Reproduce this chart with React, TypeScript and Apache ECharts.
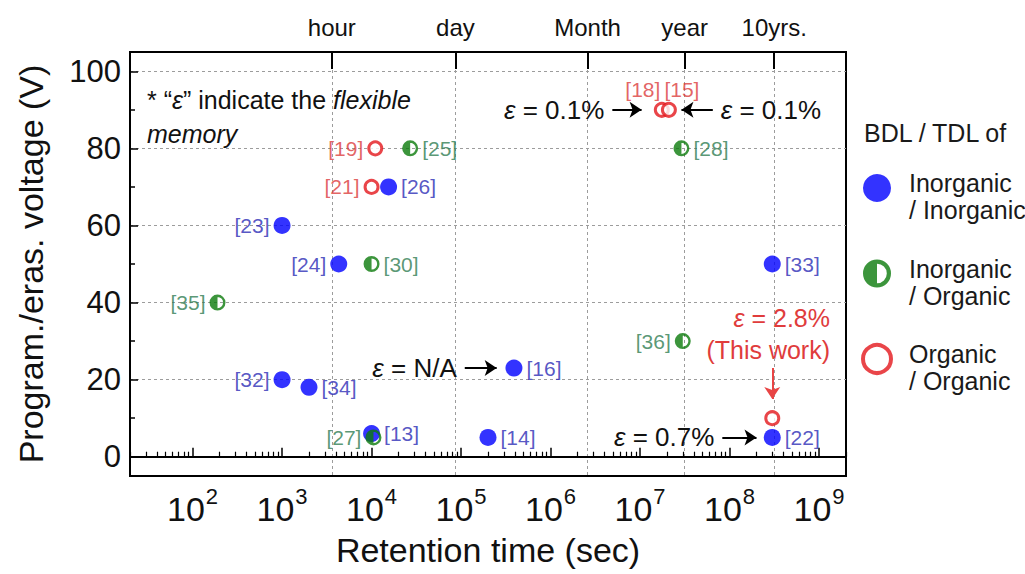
import React, { useEffect, useRef } from 'react';
import * as echarts from 'echarts';

// ---------- data ----------
const blueRefs = ['[26]', '[23]', '[24]', '[33]', '[32]', '[34]', '[16]', '[13]', '[14]', '[22]'];
const blueTime = [1.55e4, 1e3, 4.3e3, 3e8, 1e3, 2e3, 3.9e5, 1e4, 2e5, 3e8];
const blueVolt = [70, 60, 50, 50, 20, 18, 23, 6, 5, 5];
const blueSide = ['right', 'left', 'left', 'right', 'left', 'right', 'right', 'right', 'right', 'right'];

const greenRefs = ['[25]', '[28]', '[30]', '[35]', '[36]', '[27]'];
const greenTime = [2.7e4, 2.9e7, 1e4, 190, 3e7, 1.05e4];
const greenVolt = [80, 80, 50, 40, 30, 5];
const greenSide = ['right', 'right', 'right', 'left', 'left', 'left'];

const redRefs = ['[19]', '[21]', '[18]', '[15]', ''];
const redTime = [1.1e4, 1e4, 1.75e7, 2.1e7, 3e8];
const redVolt = [80, 70, 90, 90, 10];
const redSide = ['left', 'left', 'topLeft', 'topRight', 'none'];

const seriesNames = ['Inorganic\n/ Inorganic', 'Inorganic\n/ Organic', 'Organic\n/ Organic'];

const decadeTicks = [1e2, 1e3, 1e4, 1e5, 1e6, 1e7, 1e8, 1e9];
const timeMarkNames = ['hour', 'day', 'Month', 'year', '10yrs.'];
const timeMarkSecs = [3600, 86400, 2.592e6, 3.1536e7, 3.1536e8];
const voltTicks = [0, 20, 40, 60, 80, 100];
const voltMinorTicks = [10, 30, 50, 70, 90];

const arrowTexts = [' = 0.1%', ' = 0.1%', ' = N/A', ' = 0.7%'];
const arrowFrom = [[4.9e6, 90], [6.5e7, 90], [1.1e5, 23], [8.3e7, 5]];
const arrowTo = [[1.04e7, 90], [2.9e7, 90], [2.5e5, 23], [2.0e8, 5]];
const thisWorkArrowFrom = [3e8, 23];
const thisWorkArrowTo = [3e8, 15];

// log minor ticks (axis decoration)
const minorTicks: number[] = [];
for (let e = 1; e <= 9; e++) {
  for (let m = 2; m <= 9; m++) {
    const v = m * Math.pow(10, e);
    if (v >= 20 && v <= 2e9) minorTicks.push(v);
  }
}

const FONT = "'Liberation Sans', Arial, sans-serif";
const X_MIN = 20;
const X_MAX = 2e9;

const gridLine = { color: '#9c9c9c', type: [3, 3] as any, width: 1 };

function makeData(refs: string[], times: number[], volts: number[], sides: string[]) {
  return refs.map((r, i) => {
    const side = sides[i];
    let label: any;
    if (side === 'none') label = { show: false };
    else if (side === 'topLeft') label = { position: 'top', offset: [-19, 2] };
    else if (side === 'topRight') label = { position: 'top', offset: [13, 2] };
    else label = { position: side };
    return { name: r, value: [times[i], volts[i]], label };
  });
}

const GREEN_SYMBOL =
  'path://M0,-10A10,10 0 0,0 0,10A10,10 0 0,0 0,-10L0,-7A7,7 0 0,1 0,7L0,-7Z';

const epsRich = {
  e: { fontFamily: FONT, fontSize: 26, fontStyle: 'italic', color: '#111' },
  t: { fontFamily: FONT, fontSize: 26, color: '#111' },
};

function buildOption() {
  const markLineData: any[] = arrowTexts.map((txt, i) => [
    {
      coord: arrowFrom[i],
      label: {
        show: true,
        position: 'start',
        distance: 8,
        formatter: `{e|ε}{t|${txt}}`,
        rich: epsRich,
      },
      lineStyle: { color: '#000', width: 2, type: 'solid' },
    },
    { coord: arrowTo[i] },
  ]);
  markLineData.push([
    {
      coord: thisWorkArrowFrom,
      label: { show: false },
      lineStyle: { color: '#e84545', width: 2, type: 'solid' },
      itemStyle: { color: '#e84545' },
    },
    { coord: thisWorkArrowTo },
  ]);

  const labelBase = (color: string) => ({
    show: true,
    formatter: '{b}',
    color,
    fontFamily: FONT,
    fontSize: 21,
    distance: 4,
  });

  return {
    animation: false,
    backgroundColor: '#ffffff',
    grid: {
      left: 130,
      top: 52,
      right: 179,
      bottom: 98,
      show: true,
      borderColor: '#000',
      borderWidth: 2,
      containLabel: false,
      outerBoundsMode: 'none',
    },
    legend: {
      orient: 'vertical',
      left: 861,
      top: 156,
      padding: 0,
      itemGap: 19,
      itemWidth: 28,
      itemHeight: 28,
      selectedMode: false,
      data: [
        { name: seriesNames[0] },
        { name: seriesNames[1] },
        { name: seriesNames[2], itemStyle: { borderWidth: 4, borderColor: '#e3161b', color: '#fff' } },
      ],
      formatter: (name: string) => {
        const parts = name.split('\n');
        return `{p| }\n{a|${parts[0]}}\n{a|${parts[1]}}`;
      },
      textStyle: {
        fontFamily: FONT,
        fontSize: 25,
        color: '#1a1a1a',
        padding: [0, 0, 0, 13],
        rich: {
          p: { fontSize: 10, lineHeight: 17 },
          a: { fontFamily: FONT, fontSize: 25, lineHeight: 27, color: '#1a1a1a' },
        },
      },
    },
    xAxis: [
      {
        type: 'log',
        logBase: 10,
        position: 'bottom',
        min: X_MIN,
        max: X_MAX,
        name: 'Retention time (sec)',
        nameLocation: 'middle',
        nameGap: 57,
        nameMoveOverlap: false,
        nameTextStyle: { fontFamily: FONT, fontSize: 34, color: '#111' },
        axisLine: { show: true, lineStyle: { color: '#000', width: 2 } },
        axisTick: {
          show: true,
          inside: true,
          length: 9,
          customValues: decadeTicks,
          lineStyle: { color: '#000', width: 1.5 },
        },
        axisLabel: {
          show: true,
          customValues: decadeTicks,
          margin: 9,
          formatter: (v: number) => `{b|10}{s|${Math.round(Math.log10(v))}}`,
          rich: {
            b: { fontFamily: FONT, fontSize: 34, color: '#111' },
            s: { fontFamily: FONT, fontSize: 22, color: '#111', padding: [0, 0, 25, 1] },
          },
        },
        splitLine: { show: false },
        minorTick: { show: false },
      },
      {
        type: 'log',
        logBase: 10,
        position: 'bottom',
        min: X_MIN,
        max: X_MAX,
        axisLine: { show: false },
        axisTick: {
          show: true,
          inside: true,
          length: 5,
          customValues: minorTicks,
          lineStyle: { color: '#000', width: 1.2 },
        },
        axisLabel: { show: false },
        splitLine: { show: false },
      },
      {
        type: 'log',
        logBase: 10,
        position: 'top',
        min: X_MIN,
        max: X_MAX,
        axisLine: { show: true, lineStyle: { color: '#000', width: 2 } },
        axisTick: {
          show: true,
          inside: true,
          length: 17,
          customValues: timeMarkSecs,
          lineStyle: { color: '#000', width: 2 },
        },
        axisLabel: {
          show: true,
          customValues: timeMarkSecs,
          margin: 13,
          fontFamily: FONT,
          fontSize: 24,
          color: '#111',
          formatter: (v: number) => {
            const i = timeMarkSecs.findIndex((s) => Math.abs(Math.log10(s) - Math.log10(v)) < 1e-6);
            return i >= 0 ? timeMarkNames[i] : '';
          },
        },
        splitLine: { show: true, lineStyle: gridLine },
      },
    ],
    yAxis: [
      {
        type: 'value',
        position: 'left',
        min: -5,
        max: 105,
        name: 'Program./eras. voltage (V)',
        nameLocation: 'middle',
        nameGap: 82,
        nameMoveOverlap: false,
        nameTextStyle: { fontFamily: FONT, fontSize: 34, color: '#111' },
        axisLine: { show: true, lineStyle: { color: '#000', width: 2 } },
        axisTick: {
          show: true,
          inside: true,
          length: 8,
          customValues: voltTicks,
          lineStyle: { color: '#000', width: 1.5 },
        },
        axisLabel: {
          show: true,
          customValues: voltTicks,
          margin: 9,
          fontFamily: FONT,
          fontSize: 31,
          color: '#111',
        },
        splitLine: { show: true, lineStyle: gridLine },
      },
      {
        type: 'value',
        position: 'left',
        min: -5,
        max: 105,
        axisLine: { show: false },
        axisTick: {
          show: true,
          inside: true,
          length: 5,
          customValues: voltMinorTicks,
          lineStyle: { color: '#000', width: 1.5 },
        },
        axisLabel: { show: false },
        splitLine: { show: false },
      },
    ],
    graphic: [
      {
        type: 'text',
        x: 147,
        y: 117,
        style: {
          text: '{n|* “}{i|ε}{n|” indicate the }{i|flexible}\n{i|memory}',
          verticalAlign: 'middle',
          align: 'left',
          lineHeight: 34,
          rich: {
            n: { fontFamily: FONT, fontSize: 25, fill: '#111', lineHeight: 34 },
            i: { fontFamily: FONT, fontSize: 25, fontStyle: 'italic', fill: '#111', lineHeight: 34 },
          },
        },
      },
      {
        type: 'text',
        x: 830,
        y: 334,
        style: {
          text: '{i|ε}{n| = 2.8%}\n{n|(This work)}',
          align: 'right',
          verticalAlign: 'middle',
          lineHeight: 32,
          rich: {
            n: { fontFamily: FONT, fontSize: 25, fill: '#e03c3c', lineHeight: 32 },
            i: { fontFamily: FONT, fontSize: 25, fontStyle: 'italic', fill: '#e03c3c', lineHeight: 32 },
          },
        },
      },
      {
        type: 'text',
        x: 864,
        y: 133,
        style: {
          text: 'BDL / TDL of',
          fontFamily: FONT,
          fontSize: 25,
          fill: '#1a1a1a',
          align: 'left',
          verticalAlign: 'middle',
        },
      },
    ],
    series: [
      {
        name: seriesNames[0],
        type: 'scatter',
        xAxisIndex: 0,
        yAxisIndex: 0,
        symbol: 'circle',
        symbolSize: 17,
        itemStyle: { color: '#0000ff' },
        label: labelBase('#2b2bb5'),
        data: makeData(blueRefs, blueTime, blueVolt, blueSide),
        z: 3,
      },
      {
        name: seriesNames[1],
        type: 'scatter',
        xAxisIndex: 0,
        yAxisIndex: 0,
        symbol: GREEN_SYMBOL,
        symbolSize: 16,
        itemStyle: { color: '#0b7a0b' },
        label: labelBase('#2f7d52'),
        data: makeData(greenRefs, greenTime, greenVolt, greenSide),
        z: 4,
      },
      {
        name: seriesNames[2],
        type: 'scatter',
        xAxisIndex: 0,
        yAxisIndex: 0,
        symbol: 'circle',
        symbolSize: 13,
        itemStyle: { color: '#ffffff', borderColor: '#e3161b', borderWidth: 3 },
        label: labelBase('#dc3c3c'),
        data: makeData(redRefs, redTime, redVolt, redSide),
        z: 5,
        markLine: {
          silent: true,
          animation: false,
          symbol: ['none', 'arrow'],
          symbolSize: 12,
          precision: 10,
          data: markLineData,
        },
      },
    ],
  };
}

export default function App() {
  const ref = useRef<HTMLDivElement>(null);
  useEffect(() => {
    if (!ref.current) return;
    const chart = echarts.init(ref.current, null, { renderer: 'svg' });
    chart.setOption(buildOption() as any);
    return () => {
      chart.dispose();
    };
  }, []);
  return (
    <div
      ref={ref}
      style={{ position: 'fixed', left: 0, top: 0, width: 1025, height: 574, background: '#fff' }}
    />
  );
}
